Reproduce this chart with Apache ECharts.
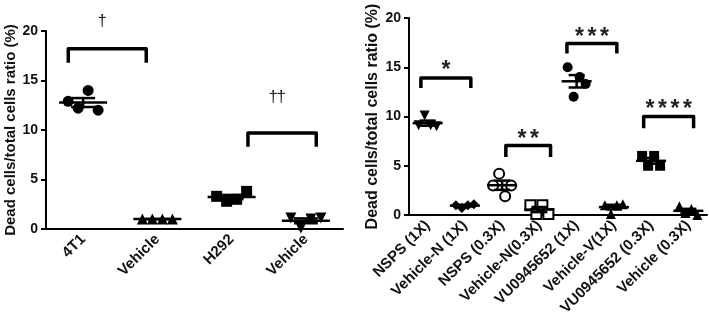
<!DOCTYPE html>
<html>
<head>
<meta charset="utf-8">
<script src="https://cdn.jsdelivr.net/npm/echarts@6/dist/echarts.min.js"></script>
<style>
  html, body { margin: 0; padding: 0; background: #fff; }
  #main { width: 709px; height: 324px; }
</style>
</head>
<body>
<div id="main"></div>
<script>
// left panel: cell lines
const leftCategories = ['4T1', 'Vehicle', 'H292', 'Vehicle'];
const left4T1 = [12.9, 12.2, 14.0, 12.0];
const leftVehicleA = [1.0, 1.0, 1.0, 1.0];
const leftH292 = [3.3, 2.8, 3.0, 3.8];
const leftVehicleB = [1.1, 0.1, 1.0, 1.1];

// right panel: treatments
const rightCategories = ['NSPS (1X)', 'Vehicle-N (1X)', 'NSPS (0.3X)', 'Vehicle-N(0.3X)',
  'VU0945652 (1X)', 'Vehicle-V(1X)', 'VU0945652 (0.3X)', 'Vehicle (0.3X)'];
const rightNSPS1 = [9.1, 10.1, 9.1, 9.0];
const rightVehN1 = [1.0, 0.7, 1.0, 1.1];
const rightNSPS03 = [3.0, 4.2, 1.9, 3.0];
const rightVehN03 = [1.0, 0.1, 1.0, 0.1];
const rightVU1 = [15.0, 12.0, 14.0, 13.3];
const rightVehV1 = [1.0, 0.1, 1.0, 1.1];
const rightVU03 = [6.0, 5.0, 6.0, 5.0];
const rightVeh03 = [0.9, 0.2, 0.6, 0.0];

// significance brackets (from / to in category units)
const leftBracketFrom = [-0.2, 2.22];
const leftBracketTo = [0.85, 3.14];
const leftBracketTop = [18.2, 9.7];
const leftBracketLeg = [16.8, 8.3];
const leftBracketMark = ['†', '††'];
const leftBracketMarkY = [21.0, 13.3];

const rightBracketFrom = [-0.18, 2.1, 3.74, 5.8];
const rightBracketTo = [1.16, 3.3, 5.08, 7.14];
const rightBracketTop = [13.9, 7.05, 17.4, 10.0];
const rightBracketLeg = [12.9, 5.9, 16.4, 8.8];
const rightBracketMark = ['*', '**', '***', '****'];
const rightBracketMarkY = [15.3, 8.3, 18.6, 11.3];

const leftGroups = [left4T1, leftVehicleA, leftH292, leftVehicleB];
const rightGroups = [rightNSPS1, rightVehN1, rightNSPS03, rightVehN03, rightVU1, rightVehV1, rightVU03, rightVeh03];

const FONT = 'Arial';
const downTri = 'path://M0,0 L10,0 L5,9 Z';

const leftMarkers = [
  { symbol: 'circle' }, { symbol: 'triangle' }, { symbol: 'rect' }, { symbol: downTri }
];
const rightMarkers = [
  { symbol: downTri }, { symbol: 'diamond' }, { symbol: 'circle', hollow: true }, { symbol: 'rect', hollow: true },
  { symbol: 'circle' }, { symbol: 'triangle' }, { symbol: 'rect' }, { symbol: 'triangle' }
];

function meanSem(arr) {
  const m = arr.reduce((a, b) => a + b, 0) / arr.length;
  const v = arr.reduce((a, b) => a + (b - m) * (b - m), 0) / (arr.length - 1);
  return [m, Math.sqrt(v) / Math.sqrt(arr.length)];
}

function scatterSeries(groups, markers, axisIdx, step, size) {
  return groups.map((vals, i) => ({
    type: 'scatter',
    xAxisIndex: axisIdx,
    yAxisIndex: axisIdx,
    symbol: markers[i].symbol,
    symbolSize: size,
    itemStyle: markers[i].hollow
      ? { color: '#fff', borderColor: '#000', borderWidth: 2, opacity: 1 }
      : { color: '#000', opacity: 1 },
    data: vals.map((v, j) => ({
      value: [i, v],
      symbolOffset: [(j - (vals.length - 1) / 2) * step, 0]
    })),
    z: 3
  }));
}

function meanSeries(groups, axisIdx, halfMean, halfCap) {
  return {
    type: 'custom',
    xAxisIndex: axisIdx,
    yAxisIndex: axisIdx,
    z: 4,
    data: groups.map((vals, i) => [i].concat(meanSem(vals))),
    renderItem: function (params, api) {
      const i = api.value(0), m = api.value(1), s = api.value(2);
      const c = api.coord([i, m]);
      const hi = api.coord([i, m + s]);
      const lo = api.coord([i, m - s]);
      const st = { stroke: '#000', lineWidth: 2.5 };
      return {
        type: 'group',
        children: [
          { type: 'line', shape: { x1: c[0] - halfMean, y1: c[1], x2: c[0] + halfMean, y2: c[1] }, style: st },
          { type: 'line', shape: { x1: c[0], y1: hi[1], x2: c[0], y2: lo[1] }, style: st },
          { type: 'line', shape: { x1: c[0] - halfCap, y1: hi[1], x2: c[0] + halfCap, y2: hi[1] }, style: st },
          { type: 'line', shape: { x1: c[0] - halfCap, y1: lo[1], x2: c[0] + halfCap, y2: lo[1] }, style: st }
        ]
      };
    }
  };
}

// each glyph of a mark is placed on its own so the spacing can follow the figure
function bracketSeries(from, to, top, leg, marks, markY, axisIdx, markFont, markGap, markShift, markDx) {
  return {
    type: 'custom',
    xAxisIndex: axisIdx,
    yAxisIndex: axisIdx,
    clip: false,
    z: 5,
    data: top.map((t) => [0, t]),
    renderItem: function (params, api) {
      const k = params.dataIndex;
      const band = api.size([1, 0])[0];
      const x0 = api.coord([0, 0])[0];
      const xa = x0 + from[k] * band, xb = x0 + to[k] * band;
      const yt = api.coord([0, top[k]])[1];
      const yl = api.coord([0, leg[k]])[1];
      const ym = api.coord([0, markY[k]])[1] + markShift;
      const glyphs = Array.from(marks[k]);
      const children = [{
        type: 'polyline',
        shape: { points: [[xa, yl], [xa, yt], [xb, yt], [xb, yl]] },
        style: { stroke: '#000', lineWidth: 3.5, fill: null, lineJoin: 'round' }
      }];
      glyphs.forEach((g, j) => {
        children.push({
          type: 'text',
          x: (xa + xb) / 2 + markDx + (j - (glyphs.length - 1) / 2) * markGap,
          y: ym,
          style: { text: g, fill: '#222', font: markFont, align: 'center', verticalAlign: 'middle' }
        });
      });
      return { type: 'group', children: children };
    }
  };
}

function yAxisFor(gridIdx, nameSize, gap) {
  return {
    type: 'value',
    gridIndex: gridIdx,
    min: 0,
    max: 20,
    interval: 5,
    name: 'Dead cells/total cells ratio (%)',
    nameLocation: 'middle',
    nameGap: gap,
    nameTextStyle: { fontFamily: FONT, fontWeight: 'bold', fontSize: nameSize, color: '#111' },
    axisLine: { show: true, lineStyle: { color: '#000', width: 2 } },
    axisTick: { show: true, length: 5, lineStyle: { color: '#000', width: 2 } },
    axisLabel: { fontFamily: FONT, fontWeight: 'bold', fontSize: 14, color: '#111', margin: 8 },
    splitLine: { show: false }
  };
}

function xAxisFor(gridIdx, cats, fontSize) {
  return {
    type: 'category',
    gridIndex: gridIdx,
    data: cats,
    boundaryGap: true,
    axisLine: { lineStyle: { color: '#000', width: 2 } },
    axisTick: { alignWithLabel: true, length: 5, lineStyle: { color: '#000', width: 2 } },
    axisLabel: {
      rotate: 45, interval: 0, hideOverlap: false,
      fontFamily: FONT, fontWeight: 'bold', fontSize: fontSize, color: '#111', margin: 8
    }
  };
}

const chart = echarts.init(document.getElementById('main'), null, { renderer: 'canvas' });

const option = {
  animation: false,
  backgroundColor: '#fff',
  grid: [
    { left: 46, top: 31, width: 297, height: 198 },
    { left: 409, top: 18, width: 298, height: 197 }
  ],
  xAxis: [xAxisFor(0, leftCategories, 15), xAxisFor(1, rightCategories, 15)],
  yAxis: [yAxisFor(0, 15, 28), yAxisFor(1, 16, 28)],
  series: [].concat(
    scatterSeries(leftGroups, leftMarkers, 0, 10, 11),
    scatterSeries(rightGroups, rightMarkers, 1, 6, 10),
    [meanSeries(leftGroups, 0, 24, 12), meanSeries(rightGroups, 1, 15, 8)],
    [bracketSeries(leftBracketFrom, leftBracketTo, leftBracketTop, leftBracketLeg,
      leftBracketMark, leftBracketMarkY, 0, '17px ' + FONT, 8, 0, -5)],
    [bracketSeries(rightBracketFrom, rightBracketTo, rightBracketTop, rightBracketLeg,
      rightBracketMark, rightBracketMarkY, 1, 'bold 23px ' + FONT, 12.5, 6, 0)]
  )
};

chart.setOption(option);
</script>
</body>
</html>
